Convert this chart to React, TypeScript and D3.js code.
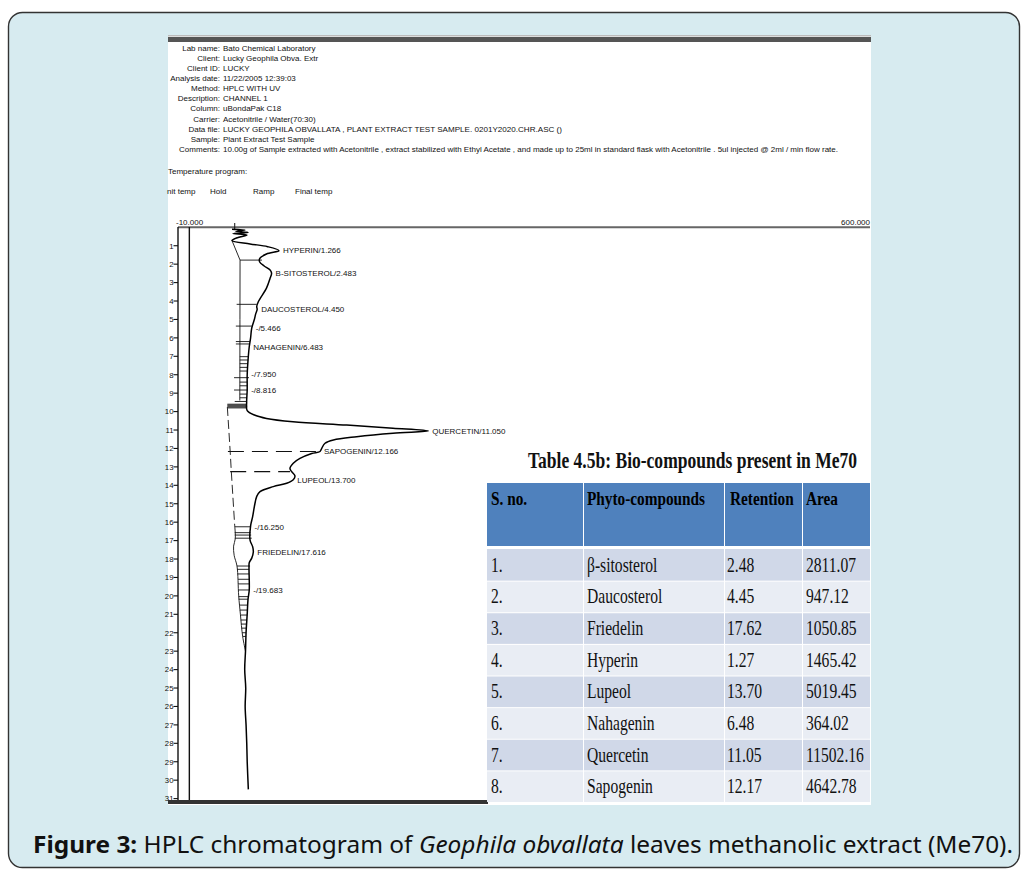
import React from "react";
import * as d3 from "d3";

// report header of the chromatogram printout
const headerLabels = [
  "Lab name:", "Client:", "Client ID:", "Analysis date:", "Method:", "Description:",
  "Column:", "Carrier:", "Data file:", "Sample:", "Comments:",
];
const headerValues = [
  "Bato Chemical Laboratory",
  "Lucky Geophila Obva. Extr",
  "LUCKY",
  "11/22/2005 12:39:03",
  "HPLC WITH UV",
  "CHANNEL 1",
  "uBondaPak C18",
  "Acetonitrile / Water(70:30)",
  "LUCKY  GEOPHILA OBVALLATA , PLANT EXTRACT TEST SAMPLE. 0201Y2020.CHR.ASC ()",
  "Plant Extract Test Sample",
  "10.00g of Sample extracted with Acetonitrile , extract stabilized with Ethyl Acetate , and made up to 25ml in standard flask with Acetonitrile . 5ul injected @ 2ml / min flow rate.",
];
const tempColumns = ["nit temp", "Hold", "Ramp", "Final temp"];

// signal axis (mV) and retention axis (min)
const signalDomain = [-10, 600];
const timeDomain = [0, 31];
const timeTicks = d3.range(1, 32);

// trace: [time (min), signal (mV)]
const trace: [number, number][] = [
  [0.1, 37.6], [0.15, 49], [0.22, 41], [0.28, 51.7], [0.34, 38.5], [0.42, 50.8],
  [0.55, 42.9], [0.72, 37.6], [0.9, 53.5], [1.05, 69], [1.266, 79], [1.45, 68],
  [1.7, 62], [1.88, 62], [2.1, 66], [2.3, 71], [2.483, 72.5], [2.8, 71], [3.3, 68],
  [4.04, 60.8], [4.3, 59.4], [4.45, 59.8], [4.7, 58.5], [5.0, 57.3], [5.466, 55],
  [6.0, 54], [6.483, 52.8], [7.0, 52], [8.0, 51], [8.816, 51], [9.5, 50.5],
  [9.95, 51], [10.2, 57.9], [10.37, 68], [10.55, 91.4], [10.73, 138.7], [10.9, 179.5],
  [11.05, 210.6], [11.17, 179.5], [11.36, 147.5], [11.54, 127], [11.72, 119.6],
  [11.99, 116.7], [12.166, 115.2], [12.27, 107.9], [12.54, 97.5], [12.8, 91.6],
  [13.08, 88.7], [13.26, 90.2], [13.49, 93.1], [13.7, 91.6], [13.89, 85.8],
  [14.07, 74], [14.34, 62.3], [14.6, 59.4], [15.16, 57.3], [15.7, 55.8], [16.2, 54],
  [16.97, 53.5], [17.33, 55.8], [17.616, 56.4], [17.95, 55], [18.2, 52.8],
  [18.5, 52.6], [19.683, 52.8], [20.2, 51.7], [21.0, 51], [22.0, 50], [23.0, 49.5],
  [24.0, 48.8], [25.0, 49.7], [26.0, 49.2], [27.0, 50], [28.0, 50.6], [29.0, 51], [30.5, 52],
];

// drawn baselines under the peaks: [time, signal]
const baselineUpper: [number, number][] = [
  [0.72, 37.6], [1.78, 44.7], [5.0, 44.6], [9.4, 44.5],
];
const baselineDashed: [number, number][] = [
  [9.75, 33.5], [12.166, 36], [13.26, 37], [16.2, 40],
];
const baselineLower: [number, number][] = [
  [16.2, 40], [16.9, 40.5], [17.3, 39], [17.8, 39.5], [18.38, 42], [20.0, 43.5],
  [21.0, 45], [22.2, 47], [23.0, 49.5],
];

// peak separator strokes: [time, from signal, to signal]
const separators: [number, number, number][] = [
  [1.78, 44.7, 64], [4.18, 41.7, 59.4], [5.36, 41, 55], [6.2, 41, 53.5], [6.33, 41, 53],
  [7.02, 44.5, 52], [7.2, 44.5, 51.8], [7.4, 44.5, 51.6], [7.6, 44.5, 51.4],
  [7.8, 44.5, 51.2], [8.16, 39.4, 52.6], [8.4, 44.5, 51], [8.6, 44.5, 51],
  [8.83, 39.4, 51], [9.05, 44.5, 50.8], [9.25, 44.5, 50.6], [9.45, 40, 50.5],
  [9.6, 33.5, 50.5], [9.65, 33.5, 50.5], [9.7, 33.5, 51], [9.75, 33.5, 51], [9.8, 34, 50],
  [16.25, 40, 54], [16.57, 40, 54], [16.7, 40, 54.5], [16.87, 40, 55],
  [18.38, 42, 53.5], [18.56, 42, 52.6], [18.81, 42.5, 52.6], [19.1, 43, 52.7],
  [19.35, 43, 52.7], [19.68, 43.2, 52.8], [20.04, 43.5, 51.8], [20.18, 43.5, 51.7],
  [20.5, 44, 51.4], [20.77, 44.5, 51.2], [21.04, 45, 51], [21.31, 45.3, 50.8],
  [21.53, 45.7, 50.6], [21.75, 46, 50.4], [22.0, 46.5, 50], [22.2, 47, 50],
];
const dashedDrops: [number, number, number][] = [
  [12.166, 34, 115], [13.26, 36, 88.7],
];

// peak labels
const peakNames = [
  "HYPERIN/1.266", "B-SITOSTEROL/2.483", "DAUCOSTEROL/4.450", "-/5.466", "NAHAGENIN/6.483",
  "-/7.950", "-/8.816", "QUERCETIN/11.050", "SAPOGENIN/12.166", "LUPEOL/13.700",
  "-/16.250", "FRIEDELIN/17.616", "-/19.683",
];
const peakTimes = [1.266, 2.483, 4.45, 5.466, 6.483, 7.95, 8.816, 11.05, 12.166, 13.7, 16.25, 17.616, 19.683];

// table 4.5b
const tableTitle = "Table 4.5b: Bio-compounds present in Me70";
const tableHeader = ["S. no.", "Phyto-compounds", "Retention", "Area"];
const serialNos = ["1.", "2.", "3.", "4.", "5.", "6.", "7.", "8."];
const compounds = ["β-sitosterol", "Daucosterol", "Friedelin", "Hyperin", "Lupeol", "Nahagenin", "Quercetin", "Sapogenin"];
const retentions = ["2.48", "4.45", "17.62", "1.27", "13.70", "6.48", "11.05", "12.17"];
const areas = ["2811.07", "947.12", "1050.85", "1465.42", "5019.45", "364.02", "11502.16", "4642.78"];

const x = d3.scaleLinear().domain(signalDomain).range([178, 870]);
const y = d3.scaleLinear().domain(timeDomain).range([227.3, 798.6]);

const traceLine = d3
  .line<[number, number]>()
  .x((d) => x(d[1]))
  .y((d) => y(d[0]))
  .curve(d3.curveCatmullRom.alpha(0.5));
const straight = d3
  .line<[number, number]>()
  .x((d) => x(d[1]))
  .y((d) => y(d[0]));

const bis = d3.bisector((d: [number, number]) => d[0]).left;
const signalAt = (t: number) => {
  const i = Math.max(1, Math.min(trace.length - 1, bis(trace, t)));
  const a = trace[i - 1];
  const b = trace[i];
  return a[1] + ((t - a[0]) / (b[0] - a[0])) * (b[1] - a[1]);
};

const sans = "'Liberation Sans', Arial, sans-serif";
const serif = "'Liberation Serif', 'Times New Roman', serif";

// table geometry
const colEdges = [487, 583, 724, 802, 870];
const headTop = 483;
const headBottom = 546;
const rowTop = 549;
const rowH = (802 - 549) / 8;
const rowFill = ["#d0d8e8", "#e9edf4"];

export default function App() {
  return (
    <svg
      width={1023}
      height={869}
      style={{ position: "fixed", left: 0, top: 0, background: "#fff" }}
    >
      <rect x={8.5} y={12.5} width={1011} height={855} rx={14} fill="#d7ebf0" stroke="#333" strokeWidth={1.4} />

      {/* chromatogram print */}
      <rect x={168} y={35} width={703} height={770} fill="#fff" />
      <rect x={168} y={35} width={703} height={1.5} fill="#bbb" />
      <rect x={168} y={37} width={703} height={5} fill="#555" />

      <g fontFamily={sans} fontSize={8} fill="#111">
        {headerLabels.map((lab, i) => (
          <text key={lab} x={220} y={50.8 + i * 10.1} textAnchor="end">{lab}</text>
        ))}
        {headerValues.map((v, i) => (
          <text
            key={i}
            x={223}
            y={50.8 + i * 10.1}
            textLength={i === 10 ? 615 : i === 8 ? 339 : undefined}
            lengthAdjust="spacingAndGlyphs"
          >
            {v}
          </text>
        ))}
        <text x={168} y={173.5}>Temperature program:</text>
        {tempColumns.map((c, i) => (
          <text key={c} x={[167, 210, 253, 295][i]} y={193.5}>{c}</text>
        ))}
        <text x={176} y={224.5}>-10.000</text>
        <text x={870} y={224.5} textAnchor="end">600.000</text>
      </g>

      {/* axes */}
      <line x1={178} x2={870} y1={227.3} y2={227.3} stroke="#666" strokeWidth={2} />
      <line x1={178} x2={178} y1={227} y2={801} stroke="#111" strokeWidth={1.4} />
      <line x1={x(0)} x2={x(0)} y1={227} y2={801} stroke="#111" strokeWidth={1.4} />
      <g fontFamily={sans} fontSize={7.8} fill="#111">
        {timeTicks.map((t) => (
          <g key={t}>
            <line x1={173.5} x2={178} y1={y(t)} y2={y(t)} stroke="#111" strokeWidth={1.1} />
            <text x={173.5} y={y(t) + 2.8} textAnchor="end">{t}</text>
          </g>
        ))}
      </g>

      {/* baselines and separators */}
      <g fill="none" stroke="#111" strokeWidth={0.9}>
        <path d={straight(baselineUpper) || ""} />
        <path d={straight(baselineDashed) || ""} strokeDasharray="9,4" />
        <path d={traceLine(baselineLower) || ""} />
        {separators.map(([t, a, b], i) => (
          <line key={i} x1={x(a)} x2={x(b)} y1={y(t)} y2={y(t)} />
        ))}
        {dashedDrops.map(([t, a, b], i) => (
          <line key={i} x1={x(a)} x2={x(b)} y1={y(t)} y2={y(t)} strokeDasharray="16,8" strokeWidth={1.2} />
        ))}
      </g>
      <line x1={x(40)} x2={x(40)} y1={223} y2={230} stroke="#111" strokeWidth={1} />
      <path d={traceLine(trace) || ""} fill="none" stroke="#000" strokeWidth={1.5} />

      <g fontFamily={sans} fontSize={8} fill="#111">
        {peakNames.map((n, i) => (
          <text key={n} x={x(signalAt(peakTimes[i])) + 4} y={y(peakTimes[i]) + 2.8}>{n}</text>
        ))}
      </g>

      <rect x={168} y={800} width={320} height={4} fill="#333" />

      {/* table */}
      <text
        x={528}
        y={468}
        fontFamily={serif}
        fontWeight="bold"
        fontSize={24}
        fill="#111"
        textLength={329}
        lengthAdjust="spacingAndGlyphs"
      >
        {tableTitle}
      </text>
      {tableHeader.map((h, j) => (
        <g key={h}>
          <rect
            x={colEdges[j] + (j ? 1 : 0)}
            y={headTop}
            width={colEdges[j + 1] - colEdges[j] - (j ? 1 : 0)}
            height={headBottom - headTop}
            fill="#4f81bd"
          />
          <text
            transform={`translate(${colEdges[j] + (j === 2 ? 6 : 4)},505) scale(0.85,1)`}
            fontFamily={serif}
            fontWeight="bold"
            fontSize={18}
            fill="#000"
          >
            {h}
          </text>
        </g>
      ))}
      {serialNos.map((s, r) => {
        const top = rowTop + r * rowH;
        const cells = [s, compounds[r], retentions[r], areas[r]];
        return (
          <g key={s}>
            {cells.map((c, j) => (
              <g key={j}>
                <rect
                  x={colEdges[j] + (j ? 1 : 0)}
                  y={top + (r ? 1 : 0)}
                  width={colEdges[j + 1] - colEdges[j] - (j ? 1 : 0)}
                  height={rowH - (r ? 1 : 0)}
                  fill={rowFill[r % 2]}
                />
                <text
                  transform={`translate(${colEdges[j] + (j === 2 ? 3 : 4)},${top + rowH / 2 + 7}) scale(0.78,1)`}
                  fontFamily={serif}
                  fontSize={20}
                  fill="#111"
                >
                  {c}
                </text>
              </g>
            ))}
          </g>
        );
      })}

      {/* caption */}
      <text
        x={33}
        y={853}
        fontFamily="'Noto Sans', 'Open Sans', sans-serif"
        fontSize={23.5}
        fill="#111"
        textLength={980}
        lengthAdjust="spacingAndGlyphs"
      >
        <tspan fontWeight="bold">Figure 3:</tspan>
        <tspan> HPLC chromatogram of </tspan>
        <tspan fontStyle="italic">Geophila obvallata</tspan>
        <tspan> leaves methanolic extract (Me70).</tspan>
      </text>
    </svg>
  );
}
